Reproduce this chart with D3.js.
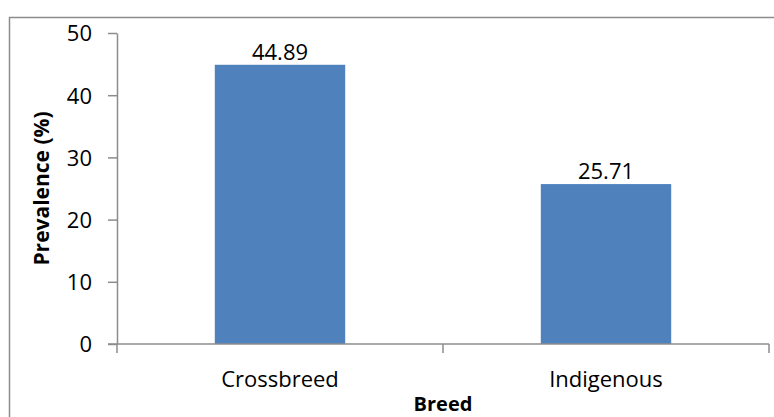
<!DOCTYPE html>
<html>
<head>
<meta charset="utf-8">
<script src="https://cdn.jsdelivr.net/npm/d3@7"></script>
<style>
  html, body { margin: 0; padding: 0; background: #fff; }
  svg { display: block; }
  text { font-family: "Open Sans", "Noto Sans", sans-serif; fill: #000; }
</style>
</head>
<body>
<svg id="chart" width="774" height="417"></svg>
<script>
// Prevalence by breed
const categories = ["Crossbreed", "Indigenous"];
const prevalence = [44.89, 25.71];
const yTicks = [0, 10, 20, 30, 40, 50];
const xTitle = "Breed";
const yTitle = "Prevalence (%)";

const svg = d3.select("#chart");
const plot = { left: 117, right: 769, top: 33, bottom: 344 };
const axisColor = "#8c8c8c";

// outer chart frame
svg.append("rect")
  .attr("x", 9.5).attr("y", 17.5)
  .attr("width", 772).attr("height", 420)
  .attr("fill", "none").attr("stroke", axisColor).attr("stroke-width", 1.5);

const x = d3.scaleBand()
  .domain(categories)
  .range([plot.left, plot.right])
  .paddingInner(0.6)
  .paddingOuter(0.3);

const y = d3.scaleLinear()
  .domain([0, 50])
  .range([plot.bottom, plot.top]);

// bars
svg.append("g").selectAll("rect")
  .data(categories)
  .join("rect")
  .attr("x", d => x(d))
  .attr("y", (d, i) => y(prevalence[i]))
  .attr("width", x.bandwidth())
  .attr("height", (d, i) => y(0) - y(prevalence[i]))
  .attr("fill", "#4f81bd");

// value labels
svg.append("g").selectAll("text")
  .data(categories)
  .join("text")
  .attr("x", d => x(d) + x.bandwidth() / 2)
  .attr("y", (d, i) => y(prevalence[i]) - 5)
  .attr("text-anchor", "middle")
  .style("font-size", "22px")
  .text((d, i) => prevalence[i].toFixed(2));

// y axis
const yAxis = svg.append("g")
  .attr("transform", `translate(${plot.left},0)`)
  .call(d3.axisLeft(y).tickValues(yTicks).tickSize(9).tickPadding(16).tickSizeOuter(0));
yAxis.select(".domain").attr("stroke", axisColor).attr("stroke-width", 1.5);
yAxis.selectAll(".tick line").attr("stroke", axisColor).attr("stroke-width", 1.5);
yAxis.selectAll(".tick text")
  .style("font-size", "22px")
  .attr("font-family", null)
  .attr("dy", "0.36em");

// x axis with boundary ticks between categories
const xAxisG = svg.append("g").attr("transform", `translate(0,${plot.bottom})`);
xAxisG.append("line")
  .attr("x1", plot.left - 9).attr("x2", plot.right)
  .attr("y1", 0).attr("y2", 0)
  .attr("stroke", axisColor).attr("stroke-width", 1.5);
const bounds = [plot.left, (plot.left + plot.right) / 2, plot.right];
xAxisG.selectAll("line.bt")
  .data(bounds)
  .join("line")
  .attr("class", "bt")
  .attr("x1", d => d).attr("x2", d => d)
  .attr("y1", 0).attr("y2", 9)
  .attr("stroke", axisColor).attr("stroke-width", 1.5);
xAxisG.selectAll("text")
  .data(categories)
  .join("text")
  .attr("x", d => x(d) + x.bandwidth() / 2)
  .attr("y", 43)
  .attr("text-anchor", "middle")
  .style("font-size", "22px")
  .text(d => d);

// axis titles
svg.append("text")
  .attr("x", (plot.left + plot.right) / 2)
  .attr("y", 411)
  .attr("text-anchor", "middle")
  .style("font-size", "20px")
  .style("font-weight", "bold")
  .text(xTitle);

svg.append("text")
  .attr("transform", `translate(49,${(plot.top + plot.bottom) / 2}) rotate(-90)`)
  .attr("text-anchor", "middle")
  .style("font-size", "21px")
  .style("font-weight", "bold")
  .text(yTitle);
</script>
</body>
</html>
